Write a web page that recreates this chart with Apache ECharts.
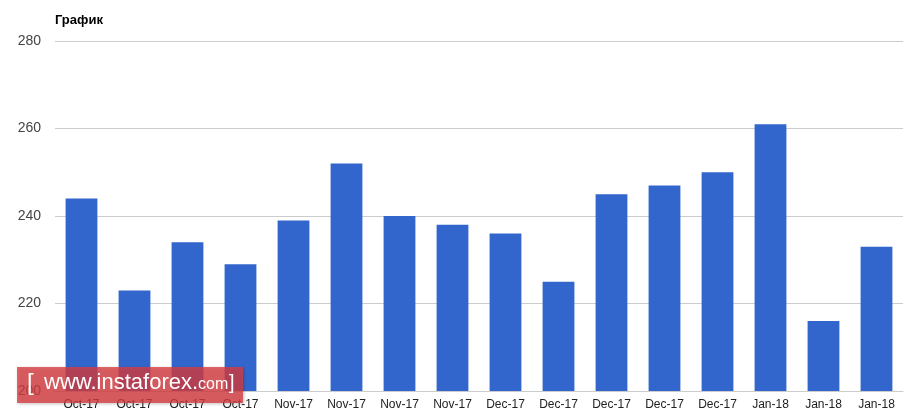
<!DOCTYPE html>
<html><head><meta charset="utf-8">
<script src="https://cdn.jsdelivr.net/npm/echarts@6/dist/echarts.min.js"></script>
<style>html,body{margin:0;padding:0;background:#fff}#c{width:921px;height:417px}</style>
</head><body><div id="c"></div>
<script>
const categories = ['Oct-17','Oct-17','Oct-17','Oct-17','Nov-17','Nov-17','Nov-17','Nov-17','Dec-17','Dec-17','Dec-17','Dec-17','Dec-17','Jan-18','Jan-18','Jan-18'];
const values = [244,223,234,229,239,252,240,238,236,225,245,247,250,261,216,233];
const yTicks = [200,220,240,260,280];
const titleText = 'График';
const watermarkText = 'www.instaforex.';
const watermarkSuffix = 'com';

const chart = echarts.init(document.getElementById('c'), null, {renderer:'canvas'});
chart.setOption({
  animation:false,
  title:{text:titleText,left:50,top:9,textStyle:{fontFamily:'Arial, Liberation Sans',fontSize:13,fontWeight:'bold',color:'#000'}},
  grid:{left:55,right:18,top:41,bottom:26,containLabel:false},
  xAxis:{type:'category',data:categories,
    axisLine:{lineStyle:{color:'#ccc'}},axisTick:{show:false},
    axisLabel:{interval:0,color:'#222',fontFamily:'Arial, Liberation Sans',fontSize:12,margin:8}},
  yAxis:{type:'value',min:yTicks[0],max:yTicks[yTicks.length-1],interval:20,
    axisLine:{show:false},axisTick:{show:false},
    splitLine:{lineStyle:{color:'#ccc'}},
    axisLabel:{color:'#444',fontFamily:'Arial, Liberation Sans',fontSize:14,margin:14}},
  series:[{type:'bar',data:values,barCategoryGap:'40%',itemStyle:{color:'#3366cc'}}],
  graphic:[
    {type:'rect',left:17,top:367,shape:{width:226,height:36},
     style:{fill:'rgba(218,60,65,0.78)',shadowBlur:3,shadowColor:'rgba(0,0,0,0.3)',shadowOffsetX:1,shadowOffsetY:1},z:100},
    {type:'text',left:27,top:371,style:{text:'[',fill:'#fff',font:'24px Arial, Liberation Sans'},z:101},
    {type:'text',left:44,top:372,style:{text:watermarkText,fill:'#fff',font:'22px Arial, Liberation Sans'},z:101},
    {type:'text',left:198,top:377,style:{text:watermarkSuffix,fill:'#fff',font:'16px Arial, Liberation Sans'},z:101},
    {type:'text',left:229,top:373,style:{text:']',fill:'#fff',font:'20px Arial, Liberation Sans'},z:101}
  ]
});
</script></body></html>
